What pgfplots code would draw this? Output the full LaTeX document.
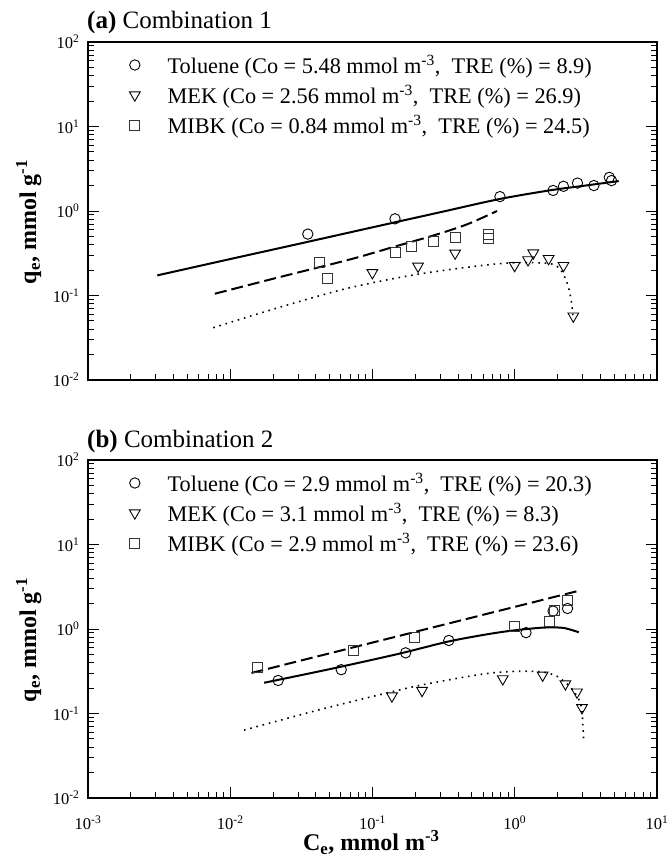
\documentclass[border=0pt]{standalone}
\usepackage{fontspec}
\setmainfont{Liberation Serif}
\usepackage{pgfplots}
\pgfplotsset{compat=1.18}
\newcommand{\sz}[1]{\fontsize{#1}{#1}\selectfont}

\begin{document}
\begin{tikzpicture}
\path[use as bounding box] (-88pt,42pt) rectangle (582pt,-820pt);

\begin{axis}[xmode=log, ymode=log,
    scale only axis, width=569pt, height=338pt,
    xmin=1e-3, xmax=10, ymin=1e-2, ymax=100,
    xtick={1e-3,1e-2,1e-1,1,10},
    ytick={1e-2,1e-1,1,10,100},
    minor xtick={0.002,0.003,0.004,0.005,0.006,0.007,0.008,0.009,0.02,0.03,0.04,0.05,0.06,0.07,0.08,0.09,0.2,0.3,0.4,0.5,0.6,0.7,0.8,0.9,2,3,4,5,6,7,8,9},
    minor ytick={0.02,0.03,0.04,0.05,0.06,0.07,0.08,0.09,0.2,0.3,0.4,0.5,0.6,0.7,0.8,0.9,2,3,4,5,6,7,8,9,20,30,40,50,60,70,80,90},
    yticklabels={10\textsuperscript{-2},10\textsuperscript{-1},10\textsuperscript{0},10\textsuperscript{1},10\textsuperscript{2}},
    xticklabels={},
    xtick pos=left, ytick pos=both,
    tick align=inside,
    major tick length=11pt, minor tick length=6pt,
    tick style={black, line width=1pt},
    axis line style={line width=1.2pt},
    tick label style={font=\sz{16.5}},
    yticklabel style={xshift=-5pt},
    ylabel={\textbf{q\textsubscript{e}, mmol g\textsuperscript{-1}}},
    ylabel style={at={(axis description cs:-0.104,0.468)}, anchor=center, font=\sz{24}},
    legend style={at={(axis description cs:0.0729,0.966)}, anchor=north west, draw=none, fill=none,
      inner sep=0pt, outer sep=0pt, font=\sz{22.3}, row sep=7pt, column sep=27.4pt,
      nodes={inner sep=0pt, text height=20pt, text depth=3pt}},
    legend cell align=left,
    name=top, at={(0pt,0pt)}, anchor=north west]
\addplot[no marks, black, line width=2pt, smooth, forget plot] coordinates {(0.00307,0.173) (0.01,0.270) (0.03,0.407) (0.1,0.641) (0.3,0.968) (0.773,1.38) (1.78,1.76) (3.0,1.98) (5.38,2.26)};
\addplot[no marks, black, line width=2pt, dash pattern=on 12pt off 5pt, smooth, forget plot] coordinates {(0.0078,0.105) (0.0238,0.170) (0.070,0.268) (0.144,0.380) (0.270,0.515) (0.462,0.695) (0.751,1.0)};
\addplot[no marks, black, line width=1.6pt, dash pattern=on 1.6pt off 4.8pt, smooth, forget plot] coordinates {(0.0076,0.0416) (0.0238,0.0751) (0.070,0.124) (0.206,0.178) (0.605,0.228) (1.06,0.245) (1.78,0.238) (2.09,0.204) (2.33,0.142) (2.49,0.090) (2.57,0.0547)};
\addplot[only marks, mark=o, mark size=5.2pt, mark options={line width=0.9pt, black}] coordinates {(0.0351,0.533) (0.144,0.808) (0.787,1.48) (1.86,1.75) (2.20,1.96) (2.76,2.14) (3.60,2.0) (4.62,2.50) (4.79,2.29)};
\addlegendentry{Toluene (Co = 5.48 mmol m\textsuperscript{-3},\ \ TRE (\%) = 8.9)}
\addplot[only marks, mark=triangle, mark size=6.2pt, mark options={rotate=180, line width=0.9pt, black}] coordinates {(0.0998,0.186) (0.209,0.222) (0.381,0.317) (0.998,0.226) (1.24,0.264) (1.35,0.318) (1.73,0.273) (2.2,0.226) (2.58,0.057)};
\addlegendentry{MEK (Co = 2.56 mmol m\textsuperscript{-3},\ \ TRE (\%) = 26.9)}
\addplot[only marks, mark=square, mark size=5pt, mark options={line width=0.9pt, black!80}] coordinates {(0.0425,0.245) (0.048,0.158) (0.144,0.327) (0.187,0.382) (0.267,0.442) (0.383,0.483) (0.656,0.530) (0.656,0.471)};
\addlegendentry{MIBK (Co = 0.84 mmol m\textsuperscript{-3},\ \ TRE (\%) = 24.5)}
\end{axis}
\node[anchor=base west, inner sep=0pt, font=\sz{25}] at (-1pt,13pt) {\textbf{(a)} Combination 1};

\begin{axis}[xmode=log, ymode=log,
    scale only axis, width=569pt, height=338pt,
    xmin=1e-3, xmax=10, ymin=1e-2, ymax=100,
    xtick={1e-3,1e-2,1e-1,1,10},
    ytick={1e-2,1e-1,1,10,100},
    minor xtick={0.002,0.003,0.004,0.005,0.006,0.007,0.008,0.009,0.02,0.03,0.04,0.05,0.06,0.07,0.08,0.09,0.2,0.3,0.4,0.5,0.6,0.7,0.8,0.9,2,3,4,5,6,7,8,9},
    minor ytick={0.02,0.03,0.04,0.05,0.06,0.07,0.08,0.09,0.2,0.3,0.4,0.5,0.6,0.7,0.8,0.9,2,3,4,5,6,7,8,9,20,30,40,50,60,70,80,90},
    yticklabels={10\textsuperscript{-2},10\textsuperscript{-1},10\textsuperscript{0},10\textsuperscript{1},10\textsuperscript{2}},
    xticklabels={10\textsuperscript{-3},10\textsuperscript{-2},10\textsuperscript{-1},10\textsuperscript{0},10\textsuperscript{1}},
    xtick pos=left, ytick pos=both,
    tick align=inside,
    major tick length=11pt, minor tick length=6pt,
    tick style={black, line width=1pt},
    axis line style={line width=1.2pt},
    tick label style={font=\sz{16.5}},
    yticklabel style={xshift=-5pt},
    xticklabel style={yshift=-14pt},
    ylabel={\textbf{q\textsubscript{e}, mmol g\textsuperscript{-1}}},
    ylabel style={at={(axis description cs:-0.104,0.468)}, anchor=center, font=\sz{24}},
    xlabel={\textbf{C\textsubscript{e}, mmol m\textsuperscript{-3}}},
    xlabel style={at={(axis description cs:0.498,-0.132)}, anchor=center, font=\sz{24}},
    legend style={at={(axis description cs:0.0729,0.966)}, anchor=north west, draw=none, fill=none,
      inner sep=0pt, outer sep=0pt, font=\sz{22.3}, row sep=7pt, column sep=27.4pt,
      nodes={inner sep=0pt, text height=20pt, text depth=3pt}},
    legend cell align=left,
    name=bot, at={(0pt,-418pt)}, anchor=north west]
\addplot[no marks, black, line width=2pt, smooth, forget plot] coordinates {(0.0173,0.231) (0.05,0.335) (0.15,0.505) (0.34,0.71) (0.65,0.87) (1.0,0.965) (1.6,1.04) (2.2,1.03) (2.82,0.914)};
\addplot[no marks, black, line width=2pt, dash pattern=on 12pt off 5pt, forget plot] coordinates {(0.0141,0.302) (2.79,2.82)};
\addplot[no marks, black, line width=1.6pt, dash pattern=on 1.6pt off 4.8pt, smooth, forget plot] coordinates {(0.0125,0.0636) (0.0408,0.109) (0.137,0.181) (0.242,0.224) (0.605,0.294) (1.04,0.316) (1.56,0.310) (1.98,0.276) (2.46,0.205) (2.82,0.147) (2.97,0.107) (3.05,0.0477)};
\addplot[only marks, mark=o, mark size=5.2pt, mark options={line width=0.9pt, black}] coordinates {(0.0217,0.246) (0.0603,0.330) (0.171,0.522) (0.344,0.732) (1.20,0.906) (1.86,1.63) (2.35,1.75)};
\addlegendentry{Toluene (Co = 2.9 mmol m\textsuperscript{-3},\ \ TRE (\%) = 20.3)}
\addplot[only marks, mark=triangle, mark size=6.2pt, mark options={rotate=180, line width=0.9pt, black}] coordinates {(0.137,0.161) (0.223,0.187) (0.824,0.257) (1.57,0.284) (2.27,0.224) (2.74,0.179) (2.97,0.117)};
\addlegendentry{MEK (Co = 3.1 mmol m\textsuperscript{-3},\ \ TRE (\%) = 8.3)}
\addplot[only marks, mark=square, mark size=5pt, mark options={line width=0.9pt, black!80}] coordinates {(0.0155,0.352) (0.0740,0.552) (0.198,0.791) (1.0,1.08) (1.75,1.22) (1.91,1.67) (2.33,2.19)};
\addlegendentry{MIBK (Co = 2.9 mmol m\textsuperscript{-3},\ \ TRE (\%) = 23.6)}
\end{axis}
\node[anchor=base west, inner sep=0pt, font=\sz{25}] at (-1pt,-405pt) {\textbf{(b)} Combination 2};
\end{tikzpicture}
\end{document}
